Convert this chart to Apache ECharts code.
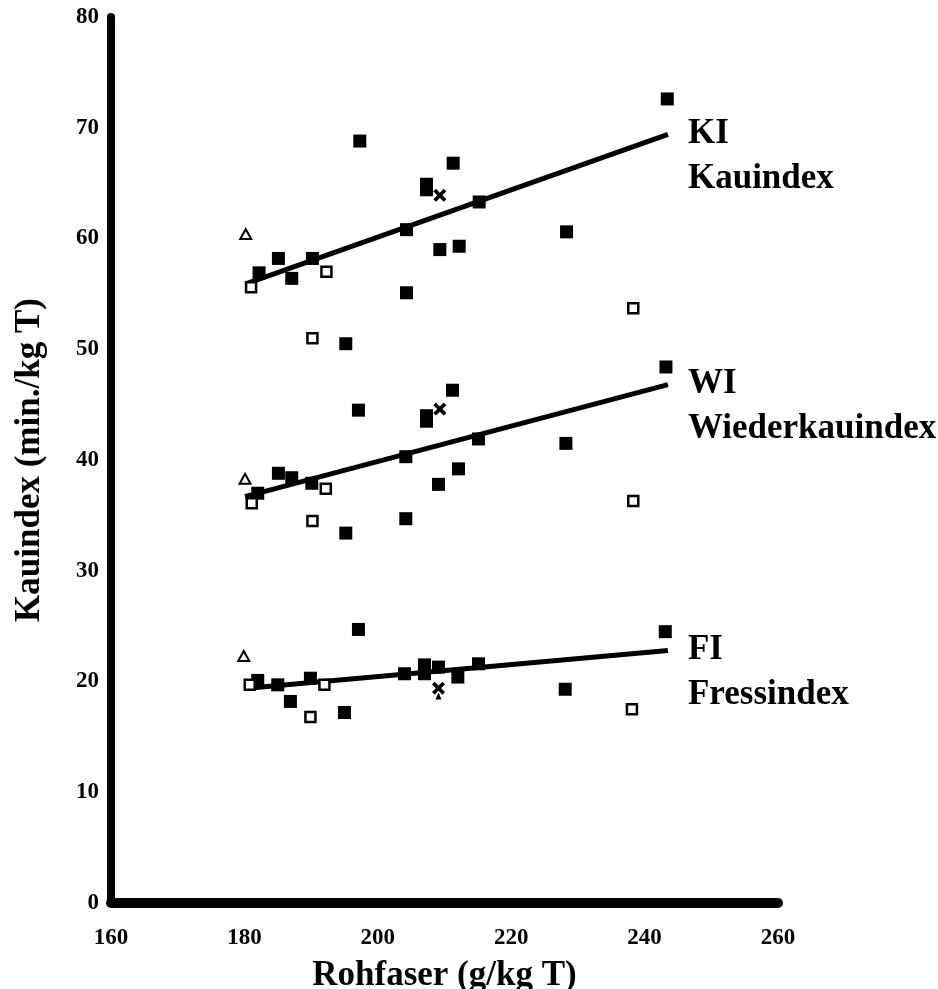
<!DOCTYPE html>
<html>
<head>
<meta charset="utf-8">
<script src="https://cdn.jsdelivr.net/npm/echarts@6/dist/echarts.min.js"></script>
<style>
  html, body { margin: 0; padding: 0; background: #fff; }
  #chart { width: 938px; height: 989px; }
</style>
</head>
<body>
<div id="chart"></div>
<script>
// Rohfaser (x) und Kauindex-Werte
const xTicks = [160, 180, 200, 220, 240, 260]

// KI Kauindex
const kiFilledX = [182.2, 185.1, 187.1, 190.2, 195.2, 197.3, 204.3, 204.3, 207.3, 207.3, 209.3, 211.3, 212.2, 215.2, 228.3, 243.4]
const kiFilledY = [56.9, 58.2, 56.4, 58.2, 50.5, 68.8, 60.8, 55.1, 64.9, 64.4, 59.0, 66.8, 59.3, 63.3, 60.6, 72.6]
const kiOpenX = [181.0, 192.3, 190.2, 238.3]
const kiOpenY = [55.6, 57.0, 51.0, 53.7]
const kiTri = [180.2, 60.4]
const kiCross = [209.3, 63.9]
const kiLine = [[180.2, 55.9], [243.5, 69.4]]

// WI Wiederkauindex
const wiFilledX = [182.0, 185.1, 187.1, 190.1, 195.2, 197.1, 204.2, 204.2, 207.3, 207.3, 209.1, 211.2, 212.1, 215.1, 228.2, 243.2]
const wiFilledY = [37.0, 38.8, 38.4, 37.9, 33.4, 44.5, 40.3, 34.7, 44.0, 43.5, 37.8, 46.3, 39.2, 41.9, 41.5, 48.4]
const wiOpenX = [181.1, 192.2, 190.2, 238.3]
const wiOpenY = [36.1, 37.4, 34.5, 36.3]
const wiTri = [180.1, 38.3]
const wiCross = [209.3, 44.6]
const wiLine = [[180.1, 36.7], [243.5, 46.8]]

// FI Fressindex
const fiFilledX = [182.0, 185.0, 186.9, 189.9, 195.0, 197.1, 204.0, 207.0, 207.0, 209.1, 212.0, 215.1, 228.1, 243.1]
const fiFilledY = [20.1, 19.7, 18.2, 20.3, 17.2, 24.7, 20.7, 21.5, 20.7, 21.3, 20.4, 21.6, 19.3, 24.5]
const fiOpenX = [180.8, 192.0, 189.9, 238.1]
const fiOpenY = [19.7, 19.7, 16.8, 17.5]
const fiTri = [179.9, 22.3]
const fiCross = [209.1, 19.4]
const fiSmallTri = [209.1, 18.7]
const fiLine = [[180.5, 19.4], [243.5, 22.8]]

const zip = (xs, ys) => xs.map((x, i) => [x, ys[i]])
const serif = 'Liberation Serif, Times New Roman, serif'
const crossPath = 'path://M0,2L2,0L5,3L8,0L10,2L7,5L10,8L8,10L5,7L2,10L0,8L3,5Z'

const fitLine = (data, text) => ({
    type: 'line',
    data: data,
    symbol: 'none',
    z: 2,
    lineStyle: { color: '#000', width: 5 },
    endLabel: {
        show: true,
        formatter: text,
        distance: 20,
        offset: [0, 22],
        fontFamily: serif,
        fontWeight: 'bold',
        fontSize: 35,
        lineHeight: 45,
        color: '#000'
    }
})

const chart = echarts.init(document.getElementById('chart'))
chart.setOption({
    animation: false,
    grid: { left: 111, right: 160, top: 17, bottom: 86, containLabel: false, outerBoundsMode: 'none' },
    xAxis: {
        type: 'value',
        min: 160,
        max: 260,
        interval: 20,
        name: 'Rohfaser (g/kg T)',
        nameLocation: 'middle',
        nameGap: 55,
        nameTextStyle: { fontFamily: serif, fontWeight: 'bold', fontSize: 35, color: '#000' },
        axisLine: { lineStyle: { color: '#000', width: 10 } },
        axisTick: { length: 4, lineStyle: { color: '#000', width: 3 } },
        splitLine: { show: false },
        axisLabel: {
            margin: 24,
            fontFamily: serif, fontWeight: 'bold', fontSize: 23, color: '#000',
            formatter: v => xTicks.includes(v) ? String(v) : ''
        }
    },
    yAxis: {
        type: 'value',
        min: 0,
        max: 80,
        interval: 10,
        name: 'Kauindex (min./kg T)',
        nameLocation: 'middle',
        nameGap: 64,
        nameTextStyle: { fontFamily: serif, fontWeight: 'bold', fontSize: 35, color: '#000' },
        axisLine: { show: true, lineStyle: { color: '#000', width: 8 } },
        axisTick: { show: true, length: 4, lineStyle: { color: '#000', width: 3 } },
        splitLine: { show: false },
        axisLabel: { margin: 12, fontFamily: serif, fontWeight: 'bold', fontSize: 23, color: '#000' }
    },
    series: [
        fitLine(kiLine, 'KI\nKauindex'),
        fitLine(wiLine, 'WI\nWiederkauindex'),
        fitLine(fiLine, 'FI\nFressindex'),
        {
            type: 'scatter',
            symbol: 'rect',
            symbolSize: 13,
            z: 3,
            itemStyle: { color: '#000', opacity: 1 },
            data: zip(kiFilledX, kiFilledY).concat(zip(wiFilledX, wiFilledY), zip(fiFilledX, fiFilledY))
        },
        {
            type: 'scatter',
            symbol: 'rect',
            symbolSize: 10,
            z: 4,
            itemStyle: { color: '#fff', borderColor: '#000', borderWidth: 2.5, opacity: 1 },
            data: zip(kiOpenX, kiOpenY).concat(zip(wiOpenX, wiOpenY), zip(fiOpenX, fiOpenY))
        },
        {
            type: 'scatter',
            symbol: 'triangle',
            symbolSize: [11, 10],
            z: 4,
            itemStyle: { color: '#fff', borderColor: '#000', borderWidth: 2, opacity: 1 },
            data: [kiTri, wiTri, fiTri]
        },
        {
            type: 'scatter',
            symbol: crossPath,
            symbolSize: 13,
            z: 4,
            itemStyle: { color: '#000', opacity: 1 },
            data: [kiCross, wiCross, fiCross]
        },
        {
            type: 'scatter',
            symbol: 'triangle',
            symbolSize: [6, 7],
            z: 4,
            itemStyle: { color: '#000', opacity: 1 },
            data: [fiSmallTri]
        }
    ]
})
</script>
</body>
</html>
